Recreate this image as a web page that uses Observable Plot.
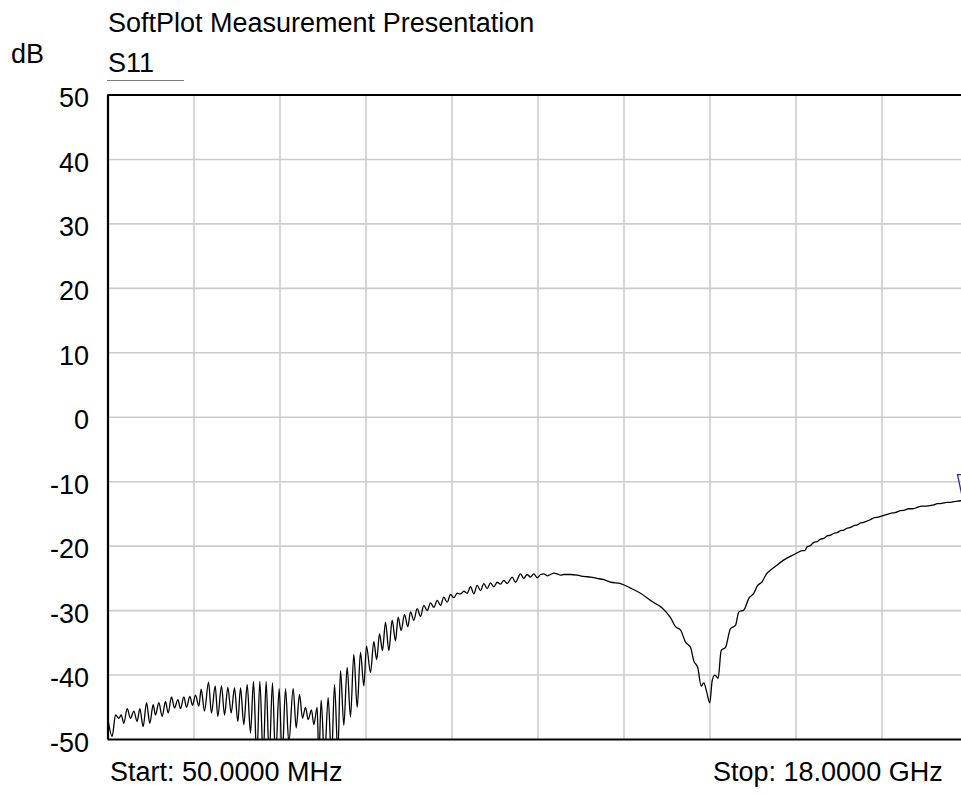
<!DOCTYPE html>
<html>
<head>
<meta charset="utf-8">
<script src="https://cdn.jsdelivr.net/npm/d3@7"></script>
<script src="https://cdn.jsdelivr.net/npm/@observablehq/plot@0.6"></script>
<style>
  html, body { margin: 0; padding: 0; overflow: hidden; background: #fff; }
  #wrap { position: relative; width: 975px; height: 795px; font-family: "Liberation Sans", Arial, sans-serif; }
  .t { position: absolute; white-space: nowrap; color: #000; font-size: 27px; line-height: 27px; }
  #chart { position: absolute; left: 0; top: 0; }
  #u { position: absolute; left: 107px; top: 80px; width: 77px; height: 0; border-top: 1.5px solid #7a7a7a; }
</style>
</head>
<body>
<div id="wrap">
  <div id="chart"></div>
  <div class="t" style="left:108px;top:10px">SoftPlot Measurement Presentation</div>
  <div class="t" style="left:11px;top:41px">dB</div>
  <div class="t" style="left:108px;top:50px">S11</div>
  <div id="u"></div>
  <div class="t" style="left:110px;top:759px">Start: 50.0000 MHz</div>
  <div class="t" style="left:713px;top:759px">Stop: 18.0000 GHz</div>
</div>
<script>
// Sweep settings (MHz) and axis ticks (dB)
const startMHz = 50;
const stopMHz = 18000;
const yTicks = [-50, -40, -30, -20, -10, 0, 10, 20, 30, 40, 50];
const xDivisions = 10;

// S11 trace: frequency (MHz) and magnitude (dB)
const freqMHz = [50,137,207,276,325,380,450,520,589,659,714,784,854,923,993,1041,1111,1181,1250,1306,1375,1438,1508,1563,1633,1688,1758,1814,1876,1946,1995,2064,2148,2210,2287,2342,2419,2482,2551,2621,2690,2760,2816,2885,2955,3024,3087,3156,3219,3289,3351,3414,3483,3546,3623,3685,3755,3824,3915,3978,4047,4110,4172,4228,4297,4346,4416,4450,4499,4569,4645,4715,4778,4847,4903,4972,5042,5111,5181,5251,5320,5390,5445,5529,5598,5658,5717,5779,5842,5912,5981,6051,6106,6169,6239,6308,6364,6433,6503,6573,6642,6712,6781,6851,6920,6990,7059,7129,7199,7268,7338,7407,7477,7547,7616,7686,7755,7825,7894,7964,8034,8103,8173,8242,8312,8381,8486,8555,8660,8729,8799,8868,8938,9008,9080,9147,9220,9286,9355,9425,9495,9564,9703,9843,9982,10121,10260,10399,10538,10747,10956,11164,11408,11617,11791,11895,11999,12104,12208,12277,12361,12431,12486,12542,12611,12660,12716,12785,12848,12938,13043,13147,13217,13321,13425,13530,13600,13704,13794,13899,14003,14107,14212,14316,14420,14539,14590,14643,14712,14782,14850,14921,14990,15061,15130,15200,15270,15339,15410,15478,15550,15617,15690,15756,15825,15895,15960,16034,16120,16209,16300,16382,16480,16591,16680,16765,16850,16939,17030,17113,17200,17287,17360,17426,17500,17565,17640,17704,17780,17864,18000];
const s11dB = [-46.9,-49.5,-46.2,-46.7,-46.2,-47.5,-45.2,-46.7,-45.6,-47.2,-45.2,-48.0,-44.3,-47.5,-44.6,-46.2,-44.3,-46.4,-44.1,-45.9,-43.4,-45.1,-43.8,-45.2,-43.4,-45.0,-43.3,-44.7,-43.1,-44.8,-42.2,-45.6,-41.1,-45.9,-41.7,-46.4,-41.7,-46.2,-41.9,-45.9,-42.0,-47.2,-42.0,-47.7,-41.5,-49.0,-41.0,-53,-41.0,-53,-41.0,-53,-41.2,-53,-42.1,-53,-42.1,-50.5,-42.1,-48.2,-43.0,-46.7,-45.0,-46.9,-45.4,-47.7,-45.0,-53,-43.9,-53,-43.5,-53,-41.5,-52,-39.3,-47.8,-38.8,-46.5,-36.8,-45.0,-36.5,-41.7,-35.5,-39.6,-34.8,-37.6,-33.6,-36.2,-31.8,-36.2,-31.5,-34.7,-31.0,-33.1,-30.6,-32.5,-30.2,-31.5,-29.7,-30.9,-29.2,-30.0,-28.8,-29.5,-28.4,-29.2,-27.9,-28.7,-27.5,-28.0,-27.3,-27.4,-27.0,-27.3,-26.3,-27.4,-26.1,-26.9,-25.8,-26.6,-25.7,-26.3,-25.6,-25.9,-25.3,-25.8,-24.8,-25.6,-24.3,-25.0,-24.4,-24.8,-24.3,-24.9,-24.4,-24.3,-24.6,-24.4,-24.2,-24.3,-24.5,-24.4,-24.4,-24.5,-24.7,-24.8,-25.0,-25.2,-25.6,-25.8,-26.5,-27.3,-28.6,-29.6,-31.1,-32.5,-33.0,-34.9,-35.7,-37.8,-38.9,-41.7,-41.2,-42.5,-44.3,-40.9,-40.0,-40.5,-36.2,-35.7,-32.8,-32.3,-30.2,-29.9,-28.1,-27.3,-26.2,-25.5,-24.3,-23.6,-23.0,-22.4,-21.9,-21.5,-21.1,-20.7,-20.7,-20.1,-19.9,-19.4,-19.3,-18.9,-18.8,-18.4,-18.3,-18.0,-17.9,-17.6,-17.5,-17.2,-17.1,-16.8,-16.7,-16.4,-16.3,-16.1,-15.9,-15.6,-15.5,-15.3,-15.1,-14.9,-14.8,-14.5,-14.4,-14.2,-14.2,-14.0,-13.8,-13.8,-13.7,-13.6,-13.4,-13.4,-13.3,-13.2,-13.2,-13.1,-13.0,-12.95,-12.9];

// Marker 1
const markerMHz = [17896];
const markerDB = [-12.95];

const trace = freqMHz.map((f, i) => ({f, db: s11dB[i]}));
const markers = markerMHz.map((f, i) => ({f, db: markerDB[i]}));
const gridX = d3.range(1, xDivisions).map(k => startMHz + k * (stopMHz - startMHz) / xDivisions);
const gridY = yTicks.filter(v => v > -50 && v < 50);

const downTriangle = {
  draw(ctx) {
    ctx.moveTo(0, 0);
    ctx.lineTo(-5.5, -26);
    ctx.lineTo(5.5, -26);
    ctx.closePath();
  }
};

const chart = Plot.plot({
  width: 975,
  height: 795,
  marginLeft: 107.5,
  marginRight: 7.5,
  marginTop: 94.5,
  marginBottom: 56,
  style: {fontFamily: "'Liberation Sans', Arial, sans-serif", fontSize: "27px", background: "transparent", color: "#000"},
  x: {domain: [startMHz, stopMHz], axis: null},
  y: {domain: [-50, 50], ticks: yTicks, tickSize: 0, tickPadding: 19, label: null},
  marks: [
    Plot.ruleX(gridX, {stroke: "#cccccc", strokeWidth: 1.6}),
    Plot.ruleY(gridY, {stroke: "#cccccc", strokeWidth: 1.6}),
    Plot.axisY({ticks: yTicks, tickSize: 0, tickPadding: 19, dy: 3.5, fontSize: 27, label: null, fill: "#000", tickFormat: d => String(d)}),
    Plot.line(trace, {x: "f", y: "db", stroke: "#000", strokeWidth: 1.3, curve: "monotone-x", clip: true}),
    Plot.dot(markers, {x: "f", y: "db", symbol: downTriangle, r: 5, stroke: "#2a2a9a", fill: "none", strokeWidth: 1.3}),
    Plot.ruleY([50, -50], {stroke: "#000", strokeWidth: 2.2}),
    Plot.ruleX([startMHz, stopMHz], {stroke: "#000", strokeWidth: 2.2})
  ]
});
document.getElementById("chart").appendChild(chart);
</script>
</body>
</html>
